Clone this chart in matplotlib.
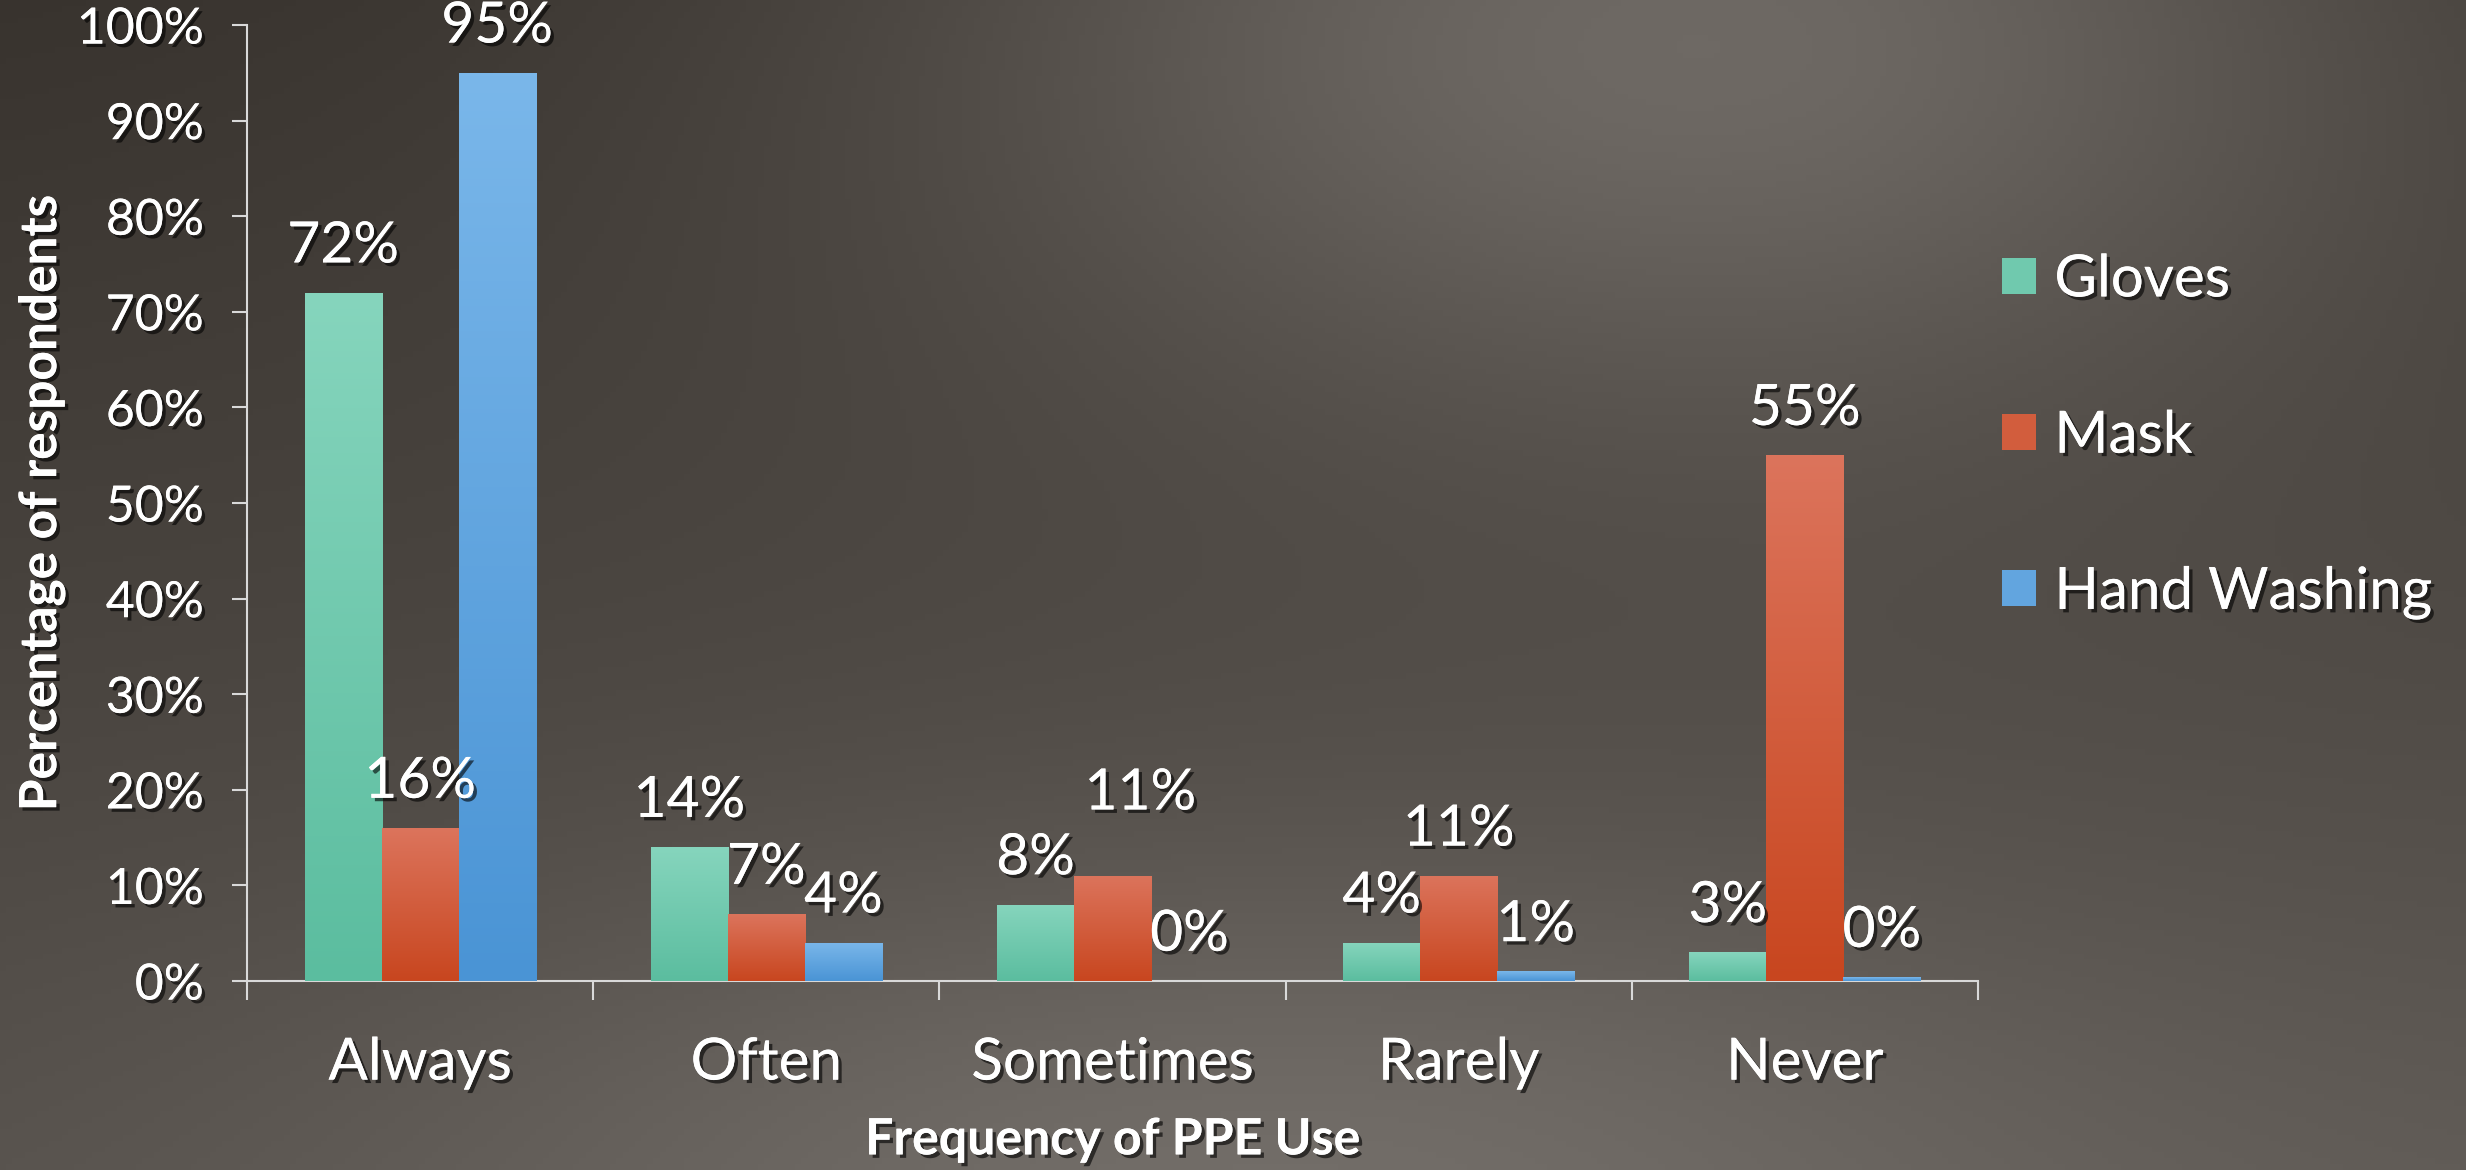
import numpy as np
import matplotlib.pyplot as plt
import matplotlib.patheffects as pe
from matplotlib.colors import LinearSegmentedColormap

plt.rcParams['font.family'] = ['Lato', 'DejaVu Sans']

# Data
categories = ['Always', 'Often', 'Sometimes', 'Rarely', 'Never']
gloves = [72, 14, 8, 4, 3]
mask = [16, 7, 11, 11, 55]
hand_washing = [95, 4, 0, 1, 0.4]
series_names = ['Gloves', 'Mask', 'Hand Washing']
y_ticks = [0, 10, 20, 30, 40, 50, 60, 70, 80, 90, 100]

# (top colour, bottom colour) of each series' gradient
series_colors = [('#86d5bd', '#5bbd9f'), ('#dc745c', '#c8461f'), ('#7ab7ea', '#4a94d5')]
# labels that were nudged in the original to avoid overlaps: (series, category) -> extra offset in points
label_nudge = {(1, 2): (20, 26)}

shadow = [pe.withSimplePatchShadow(offset=(2.5, -2.5), shadow_rgbFace='black', alpha=0.6), pe.Normal()]

fig = plt.figure(figsize=(24.66, 11.7), dpi=100)

# Background gradient over whole figure
bg_ax = fig.add_axes([0, 0, 1, 1], zorder=-10)
xx, yy = np.meshgrid(np.linspace(0, 1, 400), np.linspace(0, 1, 200))
v = 56 + 30 * yy + 8 * xx
v += 48 * np.exp(-((xx - 0.68) ** 2 / 0.10 + yy ** 2 / 0.12))
v += 24 * np.exp(-((xx - 0.5) ** 2 / 0.12 + (yy - 1) ** 2 / 0.08))
v -= 10 * np.clip(xx - 0.75, 0, None) * 4 * (1 - yy) * 0.5
rgb = np.dstack([v, v - 5, v - 10]) / 255.0
bg_ax.imshow(np.clip(rgb, 0, 1), extent=[0, 1, 0, 1], aspect='auto', origin='upper')
bg_ax.set_axis_off()

ax = fig.add_axes([0.1002, 0.1615, 0.7019, 0.8171])
ax.patch.set_alpha(0)

x = np.arange(len(categories))
width = 0.2225
offsets = [-width, 0, width]
grad = np.linspace(0, 1, 256).reshape(-1, 1)

handles = []
for si, (vals, name, off, (c_top, c_bot)) in enumerate(zip([gloves, mask, hand_washing], series_names,
                                                          offsets, series_colors)):
    bars = ax.bar(x + off, vals, width, color=c_bot, label=name, zorder=2, linewidth=0)
    cmap = LinearSegmentedColormap.from_list(name, [c_top, c_bot])
    for ci, (rect, val) in enumerate(zip(bars, vals)):
        x0, w, h = rect.get_x(), rect.get_width(), rect.get_height()
        if h > 0:
            im = ax.imshow(grad, extent=[x0, x0 + w, 0, h], aspect='auto', cmap=cmap,
                           origin='upper', zorder=3)
            im.set_clip_path(rect)
        dx, dy = label_nudge.get((si, ci), (0, 0))
        ax.annotate(f'{val:.0f}%', (x0 + w / 2, h), xytext=(dx, 33 + dy), textcoords='offset points',
                    ha='center', va='center', color='white', fontsize=41, zorder=5,
                    path_effects=shadow)
    handles.append(plt.Rectangle((0, 0), 1, 1, facecolor=cmap(0.5), edgecolor='none'))

ax.set_xlim(-0.5, len(categories) - 0.5)
ax.set_ylim(0, 100)

ax.set_yticks(y_ticks)
ax.set_yticklabels([f'{t}%' for t in y_ticks])
ax.set_xticks(np.arange(len(categories) + 1) - 0.5)
ax.set_xticklabels([])
ax.set_xticks(x, minor=True)
ax.set_xticklabels(categories, minor=True)

for s in ['top', 'right']:
    ax.spines[s].set_visible(False)
for s in ['left', 'bottom']:
    ax.spines[s].set_color('#d9d9d9')
    ax.spines[s].set_linewidth(1.5)

ax.tick_params(axis='y', colors='#d9d9d9', length=11, width=1.5, labelsize=36, labelcolor='white', pad=20)
ax.tick_params(axis='x', which='major', colors='#d9d9d9', length=14, width=1.5, direction='out')
ax.tick_params(axis='x', which='minor', length=0, labelsize=42, labelcolor='white', pad=40)
for lbl in ax.get_yticklabels() + ax.get_xticklabels(minor=True):
    lbl.set_path_effects(shadow)

ax.set_ylabel('Percentage of respondents', fontsize=37, fontweight='bold', color='white',
              labelpad=8, path_effects=shadow)
ax.set_xlabel('Frequency of PPE Use', fontsize=36, fontweight='bold', color='white',
              labelpad=20, path_effects=shadow)

leg = fig.legend(handles, series_names, loc='center left', bbox_to_anchor=(0.8118, 0.627),
                 frameon=False, fontsize=42, handlelength=0.58, handleheight=0.58,
                 handletextpad=0.32, labelspacing=1.77, borderpad=0, borderaxespad=0)
for t in leg.get_texts():
    t.set_color('white')
    t.set_path_effects(shadow)

plt.savefig('out.png', dpi=100)
plt.close()
